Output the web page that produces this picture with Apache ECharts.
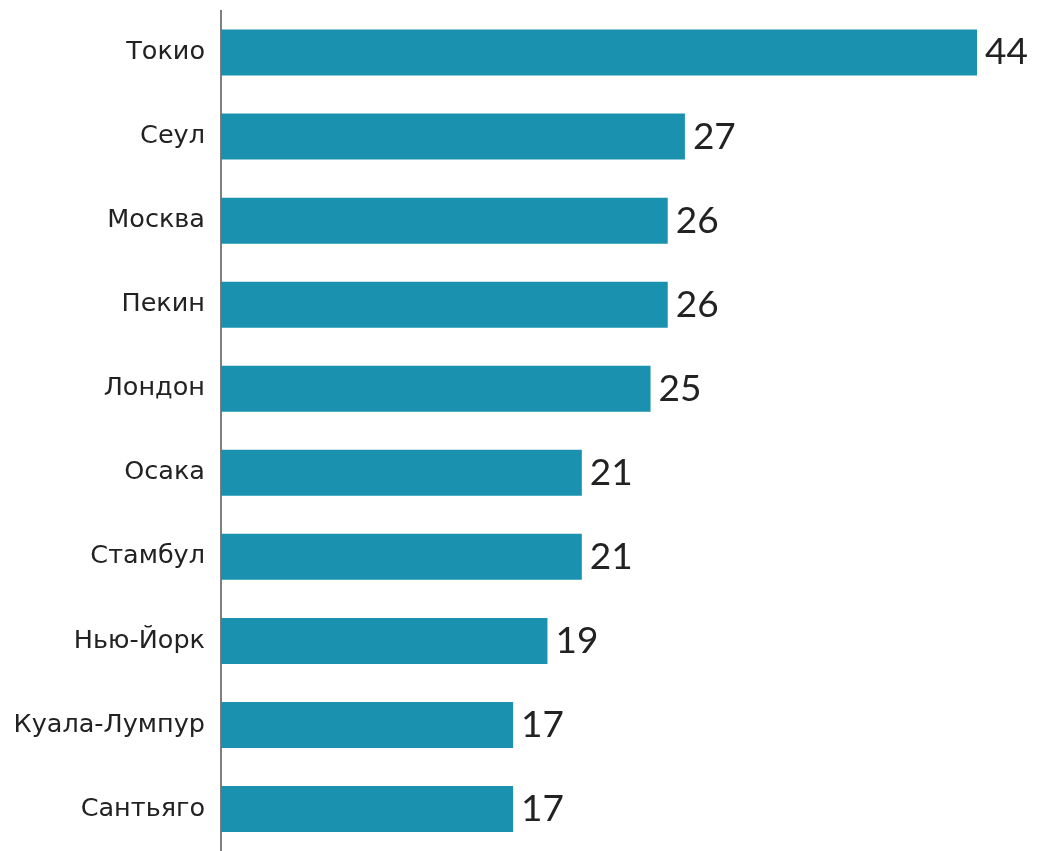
<!DOCTYPE html>
<html>
<head>
<meta charset="utf-8">
<script src="https://cdn.jsdelivr.net/npm/echarts@6/dist/echarts.min.js"></script>
<style>
  html, body { margin: 0; padding: 0; background: #ffffff; }
  #chart { width: 1038px; height: 851px; }
</style>
</head>
<body>
<div id="chart"></div>
<script>
// Cities, top to bottom
const cities = ['Токио', 'Сеул', 'Москва', 'Пекин', 'Лондон', 'Осака', 'Стамбул', 'Нью-Йорк', 'Куала-Лумпур', 'Сантьяго'];
const values = [44, 27, 26, 26, 25, 21, 21, 19, 17, 17];

const chart = echarts.init(document.getElementById('chart'));
chart.setOption({
  animation: false,
  grid: { left: 221, top: 10.5, width: 756, height: 846.7, containLabel: false },
  xAxis: {
    type: 'value', min: 0, max: 44,
    show: false
  },
  yAxis: {
    type: 'category',
    data: cities,
    inverse: true,
    axisLine: { show: true, lineStyle: { color: '#555555', width: 1.5 } },
    axisTick: { show: false },
    axisLabel: {
      margin: 16,
      color: '#222222',
      fontSize: 25.5,
      fontFamily: 'DejaVu Sans'
    }
  },
  series: [{
    type: 'bar',
    data: values,
    barWidth: 46,
    itemStyle: { color: '#1a91ae' },
    label: {
      show: true,
      position: 'right',
      distance: 8,
      color: '#222222',
      fontSize: 37,
      fontFamily: 'Lato'
    }
  }]
});
</script>
</body>
</html>
